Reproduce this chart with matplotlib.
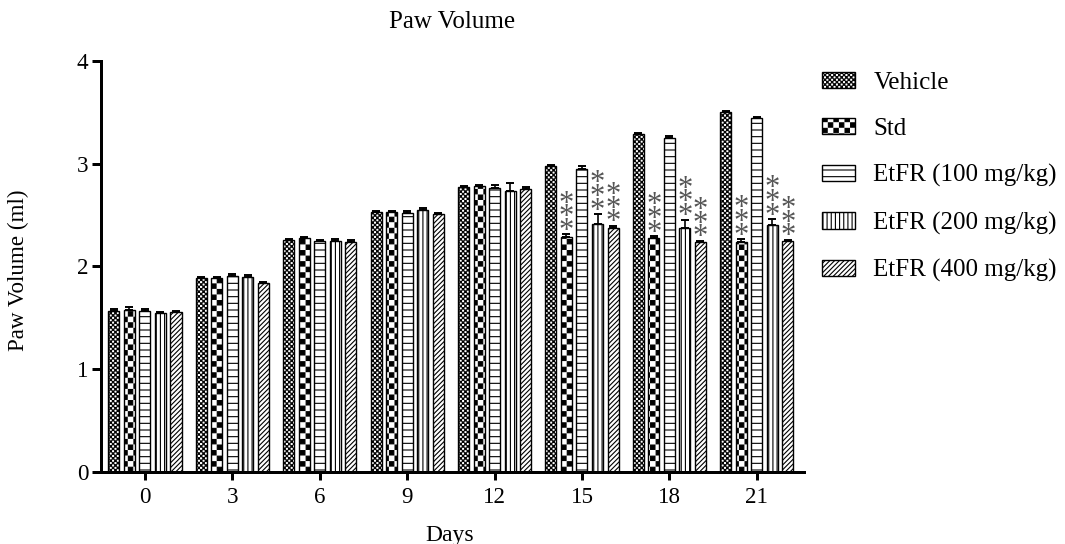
import numpy as np
import matplotlib
matplotlib.use("Agg")
import matplotlib.pyplot as plt
import matplotlib.hatch as mhatch
from matplotlib.path import Path

# ---------------- data ----------------
days = ["0", "3", "6", "9", "12", "15", "18", "21"]
series_names = ["Vehicle", "Std", "EtFR (100 mg/kg)", "EtFR (200 mg/kg)", "EtFR (400 mg/kg)"]
vehicle = [1.57, 1.885, 2.26, 2.525, 2.77, 2.98, 3.285, 3.50]
std = [1.58, 1.89, 2.28, 2.53, 2.78, 2.29, 2.275, 2.235]
etfr100 = [1.57, 1.91, 2.25, 2.52, 2.765, 2.95, 3.25, 3.445]
etfr200 = [1.55, 1.90, 2.25, 2.55, 2.73, 2.41, 2.375, 2.40]
etfr400 = [1.56, 1.835, 2.24, 2.51, 2.755, 2.375, 2.24, 2.25]
err_vehicle = [0.02, 0.01, 0.01, 0.01, 0.01, 0.01, 0.01, 0.01]
err_std = [0.02, 0.01, 0.01, 0.01, 0.01, 0.02, 0.02, 0.03]
err_100 = [0.02, 0.02, 0.01, 0.02, 0.03, 0.03, 0.02, 0.01]
err_200 = [0.01, 0.02, 0.02, 0.02, 0.08, 0.10, 0.08, 0.06]
err_400 = [0.01, 0.01, 0.02, 0.01, 0.02, 0.02, 0.01, 0.01]
sig_vehicle = ["", "", "", "", "", "", "", ""]
sig_std = ["", "", "", "", "", "***", "***", "***"]
sig_100 = ["", "", "", "", "", "", "", ""]
sig_200 = ["", "", "", "", "", "***", "***", "***"]
sig_400 = ["", "", "", "", "", "***", "***", "***"]

values = [vehicle, std, etfr100, etfr200, etfr400]
errors = [err_vehicle, err_std, err_100, err_200, err_400]
sigs = [sig_vehicle, sig_std, sig_100, sig_200, sig_400]

# ---------------- checkerboard hatches ----------------
class _CheckerHatch(mhatch.HatchPatternBase):
    char = "o"
    inset = 0.003  # compensates the hatch stroke width (fraction of the hatch tile)

    def __init__(self, hatch, density):
        self.n = int(hatch.count(self.char) * density)
        self.num_vertices = 2 * self.n * self.n * 5 if self.n else 0

    def set_vertices_and_codes(self, vertices, codes):
        m = 2 * self.n
        s = 1.0 / m
        a, b = self.inset, s - self.inset
        sq = np.array([[a, a], [b, a], [b, b], [a, b], [a, a]], dtype=float)
        parts = [sq + [i * s, j * s] for i in range(m) for j in range(m) if (i + j) % 2 == 0]
        vertices[:] = np.concatenate(parts)
        codes[:] = np.tile([Path.MOVETO, Path.LINETO, Path.LINETO, Path.LINETO, Path.CLOSEPOLY],
                           len(parts))


class FineChecker(_CheckerHatch):
    char = "o"
    inset = 0.002


class CoarseChecker(_CheckerHatch):
    char = "O"
    inset = 0.003


mhatch._hatch_types[mhatch._hatch_types.index(mhatch.SmallCircles)] = FineChecker
mhatch._hatch_types[mhatch._hatch_types.index(mhatch.LargeCircles)] = CoarseChecker

# ---------------- style ----------------
plt.rcParams["font.family"] = ["Liberation Serif", "DejaVu Serif"]
plt.rcParams["hatch.linewidth"] = 0.4
plt.rcParams["hatch.color"] = "black"

hatches = ["ooooooo", "OOO", "-----", "||||||||", "//////////////"]

fig = plt.figure(figsize=(5.325, 2.72), dpi=200)
ax = fig.add_axes([101 / 1065, 1 - 472 / 544, (804 - 101) / 1065, (472 - 60.7) / 544])

x = np.arange(len(days))
pitch = 0.1775
width = 0.126
for i, (name, vals, errs, h) in enumerate(zip(series_names, values, errors, hatches)):
    pos = x + (i - 2) * pitch
    ax.bar(pos, vals, width=width, facecolor="white", edgecolor="black",
           linewidth=0.5, hatch=h, label=name, zorder=2)
    ax.errorbar(pos, vals, yerr=[np.zeros(len(errs)), errs], fmt="none",
                ecolor="black", elinewidth=0.6, capsize=1.5, capthick=0.7, zorder=3)
    for k, s in enumerate(sigs[i]):
        if s:
            ax.annotate("\n".join(s), xy=(pos[k], vals[k] + errs[k]),
                        xytext=(0, -4.2), textcoords="offset points",
                        ha="center", va="bottom", fontsize=11, linespacing=0.306,
                        color="#555555")

ax.set_xlim(-0.503, 7.54)
ax.set_ylim(0, 4)
ax.set_xticks(x)
ax.set_xticklabels(days)
ax.set_yticks([0, 1, 2, 3, 4])
for side in ["top", "right"]:
    ax.spines[side].set_visible(False)
for side in ["left", "bottom"]:
    ax.spines[side].set_linewidth(1.08)
ax.tick_params(axis="x", length=2.9, width=1.08, pad=2.5, labelsize=8.3)
ax.tick_params(axis="y", length=3.2, width=1.08, pad=1.4, labelsize=8.3)

ax.set_title("Paw Volume", pad=11.7, fontsize=9.0)
ax.set_xlabel("Days", fontsize=8.5, va="top")
ax.xaxis.set_label_coords(0.496, (472 - 525) / 411.3)
ax.set_ylabel("Paw Volume (ml)", fontsize=8.3, va="center")
ax.yaxis.set_label_coords((18 - 101) / 703, (472 - 270) / 411.3)

ax.legend(loc="upper left", bbox_to_anchor=(821.7 / 1065, 1 - 71.7 / 544),
          bbox_transform=fig.transFigure, frameon=False, borderpad=0, borderaxespad=0,
          handlelength=1.35, handleheight=0.62, handletextpad=0.72, labelspacing=0.97,
          fontsize=9.0)

fig.savefig("out.png", dpi=200)
